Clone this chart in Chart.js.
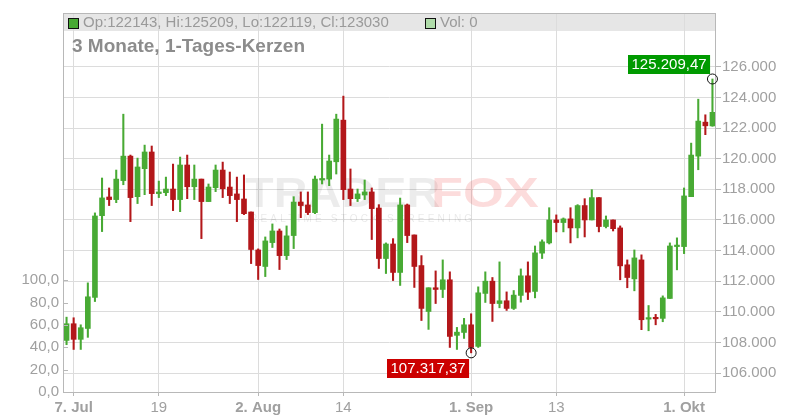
<!DOCTYPE html>
<html>
<head>
<meta charset="utf-8">
<script src="https://cdn.jsdelivr.net/npm/chart.js@4.4.0/dist/chart.umd.min.js"></script>
<style>
  html, body { margin: 0; padding: 0; background: #fff; }
</style>
</head>
<body>
<canvas id="candleChart" width="800" height="420"></canvas>
<script>
// DATA (daily candles, 6 Jul - 5 Oct)
const dates = [
  '06.07.','07.07.','08.07.','09.07.','10.07.','11.07.','12.07.','13.07.','14.07.','15.07.',
  '16.07.','17.07.','18.07.','19.07.','20.07.','21.07.','22.07.','23.07.','24.07.','25.07.',
  '26.07.','27.07.','28.07.','29.07.','30.07.','31.07.',
  '01.08.','02.08.','03.08.','04.08.','05.08.','06.08.','07.08.','08.08.','09.08.','10.08.',
  '11.08.','12.08.','13.08.','14.08.','15.08.','16.08.','17.08.','18.08.','19.08.','20.08.',
  '21.08.','22.08.','23.08.','24.08.','25.08.','26.08.','27.08.','28.08.','29.08.','30.08.','31.08.',
  '01.09.','02.09.','03.09.','04.09.','05.09.','06.09.','07.09.','08.09.','09.09.','10.09.',
  '11.09.','12.09.','13.09.','14.09.','15.09.','16.09.','17.09.','18.09.','19.09.','20.09.',
  '21.09.','22.09.','23.09.','24.09.','25.09.','26.09.','27.09.','28.09.','29.09.','30.09.',
  '01.10.','02.10.','03.10.','04.10.','05.10.'
];

const opens = [
  108130,109220,108200,108910,110940,116280,117500,117330,118570,120170,
  117520,119350,120440,117720,117780,118020,117330,119590,118170,118670,
  117200,118110,119260,118150,117700,117370,
  116520,114040,112960,114520,115280,113670,114980,117170,116980,116480,
  118610,118670,119800,122520,118020,117390,117630,117830,116780,113480,
  114430,112570,116980,115020,113020,110020,111570,111460,112090,108460,108650,
  109150,107740,111200,112000,110540,110720,110220,111070,112350,111330,
  113830,114500,116000,115830,116070,115480,116940,116000,117460,115570,
  116000,115480,113070,112150,113390,109520,109590,109570,110870,114260,
  114260,117520,120170,122390,122143
];
const highs = [
  109650,109610,109150,111890,116460,118740,118090,119260,122910,120240,
  120040,120890,120830,118540,118800,119650,120110,120240,119590,118670,
  118350,119590,119780,119130,118800,118940,
  116520,114110,114890,115740,115410,115610,117520,117830,117830,118870,
  122260,120240,122910,124090,119330,118020,118610,118090,117000,114500,
  114780,117430,117040,115020,113670,111570,112670,113390,112610,108980,109570,
  109870,111630,112610,112240,113260,111300,111390,112800,113260,114300,
  114700,116800,116330,116130,116800,117000,117390,117980,117460,116260,
  116000,115610,113390,114040,113720,110410,109830,111040,114500,114830,
  118090,121020,123890,122870,125209.47
];
const lows = [
  107850,107540,107540,108330,110670,115240,116940,117130,118300,115890,
  117070,117650,116940,117460,117590,116610,116540,117390,117330,114780,
  117200,117850,117460,117070,115890,116350,
  113150,112110,112300,114200,112760,113410,114130,116150,116350,116410,
  118350,118240,119000,117330,116940,117200,117330,114720,112830,112500,
  112040,111720,114520,111590,109430,108850,110540,110930,107670,107540,108260,
  107317.37,107670,110610,109370,110260,110090,110150,110630,110800,110910,
  113480,114430,115220,115220,114500,114830,114890,116000,115220,115480,
  115280,112090,111570,111370,108830,108760,109150,109350,110870,112740,
  113800,117520,119280,121570,122119
];
const closes = [
  109220,108200,108960,110980,116260,117440,117330,118670,120170,117460,
  119460,120440,117720,117830,118020,117330,119590,118170,118670,117200,
  118150,119260,118040,117590,117330,116410,
  114070,113020,114630,115280,113670,114960,117170,116940,116480,118670,
  118670,119850,122590,117980,117390,117700,117830,116740,113480,114430,
  112570,116980,114980,112960,110220,111570,111460,112090,108390,108670,109150,
  107670,111240,112000,110540,110720,110220,111090,112350,111280,113850,
  114570,116000,115830,116070,115480,116940,116000,117460,115570,116000,
  115430,113000,112240,113520,109480,109610,109540,110910,114300,114330,
  117570,120240,122460,122150,123030
];
const volumes = [0];

const xTickIndex = [1, 13, 27, 39, 57, 69, 87];
const xTickText = ['7. Jul', '19', '2. Aug', '14', '1. Sep', '13', '1. Okt'];
const priceTicks = [106000, 108000, 110000, 112000, 114000, 116000, 118000, 120000, 122000, 124000, 126000];
const volTicks = [0, 20, 40, 60, 80, 100];
const chartTitle = '3 Monate, 1-Tages-Kerzen';

// STYLE
const GREEN = '#48aa34';
const RED = '#b3171a';
const GRID = '#dcdcdc';
const FRAME = '#b8b8b8';
const TEXT = '#a0a0a0';
const FONT = '"Liberation Sans", Arial, sans-serif';

const candleColors = closes.map((c, i) => c >= opens[i] ? GREEN : RED);

function fmtThousands(n) {
  return String(n).replace(/\B(?=(\d{3})+(?!\d))/g, '.');
}
function fmtPrice(v) {
  const parts = v.toFixed(2).split('.');
  return fmtThousands(parts[0]) + ',' + parts[1];
}

// DECORATION PLUGIN (legend band, frame, title, watermark, min/max marks)
const chartDecor = {
  id: 'chartDecor',
  beforeDraw(chart) {
    const { ctx, chartArea: a } = chart;
    ctx.save();
    ctx.fillStyle = '#e6e6e6';
    ctx.fillRect(a.left, a.top, a.right - a.left, 18);
    ctx.restore();
  },
  beforeDatasetsDraw(chart) {
    const { ctx } = chart;
    ctx.save();
    ctx.textBaseline = 'alphabetic';
    ctx.font = 'bold 43px ' + FONT;
    ctx.save();
    ctx.translate(245, 207);
    ctx.scale(1.09, 1);
    ctx.fillStyle = 'rgba(0,0,0,0.075)';
    ctx.fillText('TRADER', 0, 0);
    ctx.restore();
    ctx.save();
    ctx.translate(431, 207);
    ctx.scale(1.22, 1);
    ctx.fillStyle = 'rgba(235,40,40,0.16)';
    ctx.fillText('FOX', 0, 0);
    ctx.restore();
    ctx.font = '10px ' + FONT;
    ctx.fillStyle = 'rgba(0,0,0,0.09)';
    ctx.letterSpacing = '3.2px';
    ctx.fillText('REALTIME STOCK SCREENING', 250, 222);
    ctx.restore();
  },
  afterDraw(chart) {
    const { ctx, chartArea: a, scales } = chart;
    ctx.save();

    // frame
    ctx.strokeStyle = FRAME;
    ctx.lineWidth = 1;
    ctx.strokeRect(a.left + 0.5, a.top + 0.5, a.right - a.left - 1, a.bottom - a.top);

    // volume ticks point inward
    volTicks.forEach(v => {
      const y = Math.round(scales.yVol.getPixelForValue(v)) + 0.5;
      ctx.beginPath();
      ctx.moveTo(a.left, y);
      ctx.lineTo(a.left + 5, y);
      ctx.stroke();
    });

    // legend row
    const last = dates.length - 1;
    ctx.font = '15px ' + FONT;
    ctx.textBaseline = 'middle';
    ctx.fillStyle = GREEN;
    ctx.fillRect(a.left + 5.5, a.top + 5.5, 10, 10);
    ctx.strokeStyle = '#111';
    ctx.strokeRect(a.left + 5.5, a.top + 5.5, 10, 10);
    ctx.fillStyle = '#9a9a9a';
    const ohlc = 'Op:' + Math.round(opens[last]) + ', Hi:' + Math.round(highs[last]) +
      ', Lo:' + Math.round(lows[last]) + ', Cl:' + Math.round(closes[last]);
    ctx.fillText(ohlc, a.left + 20, a.top + 10);
    ctx.fillStyle = '#b0dcaa';
    ctx.fillRect(a.left + 362.5, a.top + 5.5, 10, 10);
    ctx.strokeRect(a.left + 362.5, a.top + 5.5, 10, 10);
    ctx.fillStyle = '#9a9a9a';
    ctx.fillText('Vol: ' + volumes[0], a.left + 377, a.top + 10);

    // title
    ctx.font = 'bold 19px ' + FONT;
    ctx.fillStyle = '#8c8c8c';
    ctx.fillText(chartTitle, a.left + 9, 47);

    // max / min marks
    const hiVal = Math.max(...highs);
    const loVal = Math.min(...lows);
    const hiIdx = highs.indexOf(hiVal);
    const loIdx = lows.indexOf(loVal);
    const marks = [
      { idx: hiIdx, val: hiVal, color: '#009a00', above: true },
      { idx: loIdx, val: loVal, color: '#cc0000', above: false }
    ];
    ctx.font = '15px ' + FONT;
    marks.forEach(m => {
      const x = scales.x.getPixelForValue(m.idx);
      const y = scales.y.getPixelForValue(m.val);
      const txt = fmtPrice(m.val);
      const w = ctx.measureText(txt).width + 7;
      const h = 19;
      const bx = Math.round(x - 2 - w);
      const by = m.above ? Math.round(y - 5 - h) : Math.round(y + 6);
      ctx.fillStyle = m.color;
      ctx.fillRect(bx, by, w, h);
      ctx.fillStyle = '#fff';
      ctx.textAlign = 'left';
      ctx.fillText(txt, bx + 3.5, by + h / 2 + 0.5);
      ctx.beginPath();
      ctx.arc(x, y, 5, 0, Math.PI * 2);
      ctx.strokeStyle = '#111';
      ctx.stroke();
    });

    ctx.restore();
  }
};

const chartEl = document.getElementById('candleChart');

new Chart(chartEl, {
  type: 'bar',
  data: {
    labels: dates,
    datasets: [
      {
        label: 'Kerzenkörper',
        data: dates.map((d, i) => [opens[i], closes[i]]),
        backgroundColor: candleColors,
        borderWidth: 0,
        barThickness: 5,
        minBarLength: 1.5,
        grouped: false,
        yAxisID: 'y'
      },
      {
        label: 'Docht',
        data: dates.map((d, i) => [lows[i], highs[i]]),
        backgroundColor: candleColors,
        borderWidth: 0,
        barThickness: 1.4,
        grouped: false,
        yAxisID: 'y'
      }
    ]
  },
  options: {
    responsive: false,
    animation: false,
    events: [],
    layout: { padding: { top: 12, left: 0, right: 0, bottom: 0 } },
    plugins: {
      legend: { display: false },
      tooltip: { enabled: false }
    },
    scales: {
      x: {
        type: 'category',
        offset: true,
        afterBuildTicks: s => { s.ticks = xTickIndex.map(v => ({ value: v })); },
        afterFit: s => { s.height = 28; },
        grid: { offset: false, color: GRID, tickColor: FRAME, tickLength: 4 },
        border: { display: false },
        ticks: {
          autoSkip: false,
          maxRotation: 0,
          padding: 3,
          color: TEXT,
          font: ctx => {
            const t = xTickText[ctx.index] || '';
            return { family: FONT, size: 15, weight: t.indexOf(' ') > 0 ? 'bold' : 'normal' };
          },
          callback: (v, i) => xTickText[i]
        }
      },
      y: {
        position: 'right',
        min: 104760,
        max: 129520,
        afterBuildTicks: s => { s.ticks = priceTicks.map(v => ({ value: v })); },
        afterFit: s => { s.width = 84; },
        grid: { color: GRID, tickColor: FRAME, tickLength: 5 },
        border: { display: false },
        ticks: {
          padding: 1,
          color: TEXT,
          font: { family: FONT, size: 15 },
          callback: v => fmtThousands(v)
        }
      },
      yVol: {
        position: 'left',
        min: 0,
        max: 339,
        afterBuildTicks: s => { s.ticks = volTicks.map(v => ({ value: v })); },
        afterFit: s => { s.width = 63; },
        grid: { drawOnChartArea: false, drawTicks: false },
        border: { display: false },
        ticks: {
          padding: 4,
          color: TEXT,
          font: { family: FONT, size: 15 },
          callback: v => v.toFixed(1).replace('.', ',')
        }
      }
    }
  },
  plugins: [chartDecor]
});
</script>
</body>
</html>
